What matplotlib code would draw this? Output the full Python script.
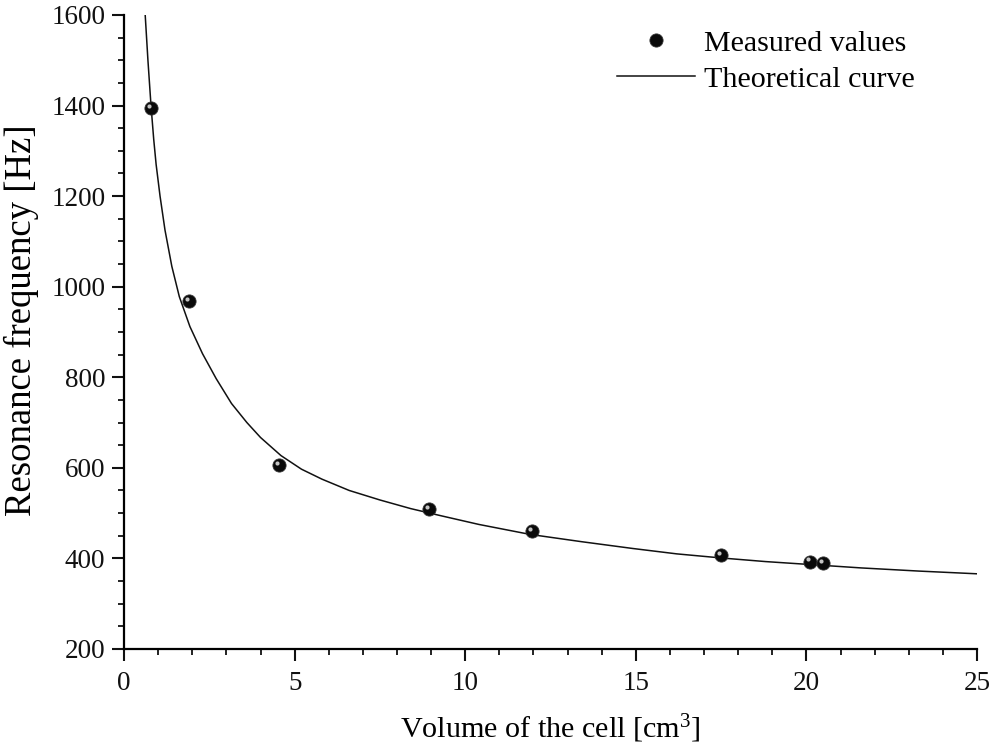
import matplotlib
matplotlib.use("Agg")
import matplotlib.pyplot as plt
import matplotlib.transforms as mtransforms
from matplotlib.ticker import MultipleLocator

plt.rcParams['font.family'] = ['Liberation Serif', 'DejaVu Serif']
plt.rcParams['mathtext.fontset'] = 'custom'
plt.rcParams['mathtext.rm'] = 'Liberation Serif'
plt.rcParams['mathtext.it'] = 'Liberation Serif:italic'

# measured resonance frequencies
volume_meas = [0.8, 1.9, 4.55, 8.95, 11.95, 17.5, 20.1, 20.5]
freq_meas = [1395, 969, 606, 508, 461, 408, 393, 390]

# theoretical curve, sampled
volume_theo = [0.62, 0.70, 0.79, 0.87, 0.94, 1.055, 1.20, 1.40, 1.62, 1.93,
               2.30, 2.70, 3.15, 3.60, 4.00, 4.60, 5.20, 5.80, 6.60, 7.50,
               8.40, 9.30, 10.40, 11.90, 13.40, 14.90, 16.20, 17.50, 18.80,
               20.20, 21.60, 23.30, 25.00]
freq_theo = [1600, 1500, 1400, 1325, 1270, 1200, 1125, 1045, 978, 912,
             852, 797, 742, 700, 667, 627, 597, 575, 550, 529,
             510, 494, 475, 453, 437, 422, 410, 401, 393,
             386, 379, 372, 366]

fig = plt.figure(figsize=(9.9, 7.52), dpi=100)
ax = fig.add_axes([0.1253, 0.1370, 0.8616, 0.8431])

line, = ax.plot(volume_theo, freq_theo, color='#111111', lw=1.1, zorder=2)

# shaded "ball" markers: dark disc plus a small highlight
balls, = ax.plot(volume_meas, freq_meas, 'o', ms=9.5, color='#0a0a0a',
                 mec='#333333', mew=0.6, ls='none', zorder=3)
shift = mtransforms.ScaledTranslation(-1.5 / 72, 1.5 / 72, fig.dpi_scale_trans)
ax.plot(volume_meas, freq_meas, 'o', ms=3.0, color='#c4c4c4',
        mew=0, ls='none', zorder=4, transform=ax.transData + shift)

ax.set_xlim(0, 25)
ax.set_ylim(200, 1600)
ax.xaxis.set_major_locator(MultipleLocator(5))
ax.xaxis.set_minor_locator(MultipleLocator(1))
ax.yaxis.set_major_locator(MultipleLocator(200))
ax.yaxis.set_minor_locator(MultipleLocator(50))

for side in ('top', 'right'):
    ax.spines[side].set_visible(False)
for side in ('left', 'bottom'):
    ax.spines[side].set_linewidth(1.6)

ax.tick_params(which='major', direction='out', length=8.5, width=1.5,
               labelsize=19.5, colors='#111111', pad=5)
ax.tick_params(axis='x', which='major', pad=7)
ax.tick_params(which='minor', direction='out', length=4.5, width=1.3,
               colors='#111111')

ax.set_xlabel(r'Volume of the cell [cm$^3$]', fontsize=21.7, labelpad=12)
ax.set_ylabel('Resonance frequency [Hz]', fontsize=26.5)
ax.yaxis.set_label_coords(-0.100, 0.519)

ax.legend([balls, line], ['Measured values', 'Theoretical curve'],
          frameon=False, fontsize=21.6, loc='upper right',
          bbox_to_anchor=(0.941, 0.996), handlelength=2.6,
          handletextpad=0.3, labelspacing=0.3, borderaxespad=0)

fig.savefig('out.png', dpi=100)
